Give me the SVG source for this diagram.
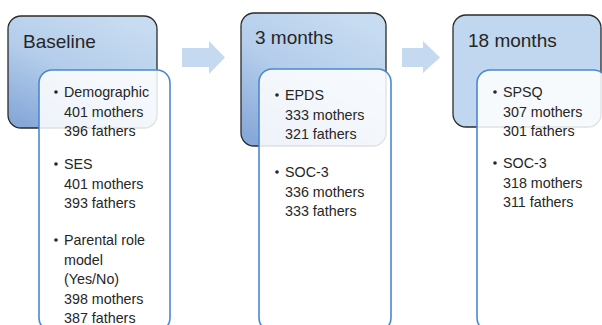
<svg xmlns="http://www.w3.org/2000/svg" width="602" height="325" viewBox="0 0 602 325">
<defs>
<linearGradient id="g1" x1="0.75" y1="0" x2="0.15" y2="1">
<stop offset="0" stop-color="#c8dcf1"/>
<stop offset="0.5" stop-color="#b4cdeb"/>
<stop offset="1" stop-color="#87a8d8"/>
</linearGradient>
<style>
.outer{stroke:#2b2b2b;stroke-width:1.3}
.inner{fill:#ffffff;fill-opacity:0.86;stroke:#4b88cc;stroke-width:1.6}
.arrow{fill:#c5daf0}
text{font-family:"Liberation Sans",Arial,sans-serif;fill:#262626}
.h{font-size:19px}
.t{font-size:14.3px}
.b{fill:#262626}
</style>
</defs>
<rect width="602" height="325" fill="#ffffff"/>
<g id="connectors">
<polygon class="arrow" points="182,48 209,48 209,41 225,57.5 209,74 209,67 182,67"/>
<polygon class="arrow" points="402,48 423,48 423,41 440,57.5 423,73 423,67 402,67"/>
</g>
<g id="baseline">
<rect class="outer" x="8" y="16" width="149" height="112" rx="13" fill="url(#g1)"/>
<text class="h" x="23" y="48">Baseline</text>
<rect class="inner" x="39" y="70" width="131" height="261" rx="13"/>
<circle class="b" cx="56" cy="92" r="1.8"/>
<text class="t" x="64" y="97">Demographic</text>
<text class="t" x="64" y="116.5">401 mothers</text>
<text class="t" x="64" y="136">396 fathers</text>
<circle class="b" cx="56" cy="164" r="1.8"/>
<text class="t" x="64" y="169">SES</text>
<text class="t" x="64" y="188.5">401 mothers</text>
<text class="t" x="64" y="208">393 fathers</text>
<circle class="b" cx="56" cy="240" r="1.8"/>
<text class="t" x="64" y="245">Parental role</text>
<text class="t" x="64" y="264.5">model</text>
<text class="t" x="64" y="284">(Yes/No)</text>
<text class="t" x="64" y="303.5">398 mothers</text>
<text class="t" x="64" y="323">387 fathers</text>
</g>
<g id="three-months">
<rect class="outer" x="241" y="13" width="145" height="133" rx="13" fill="url(#g1)"/>
<text class="h" x="255" y="44">3 months</text>
<rect class="inner" x="259" y="69" width="132" height="262" rx="13"/>
<circle class="b" cx="277" cy="95" r="1.8"/>
<text class="t" x="285" y="100">EPDS</text>
<text class="t" x="285" y="119.5">333 mothers</text>
<text class="t" x="285" y="139">321 fathers</text>
<circle class="b" cx="277" cy="172" r="1.8"/>
<text class="t" x="285" y="177">SOC-3</text>
<text class="t" x="285" y="196.5">336 mothers</text>
<text class="t" x="285" y="216">333 fathers</text>
</g>
<g id="eighteen-months">
<rect class="outer" x="453" y="15" width="148" height="112" rx="13" fill="#c0d7ef"/>
<text class="h" x="468" y="47">18 months</text>
<rect class="inner" x="477" y="70" width="130" height="261" rx="13"/>
<circle class="b" cx="495" cy="92" r="1.8"/>
<text class="t" x="503" y="97">SPSQ</text>
<text class="t" x="503" y="116.5">307 mothers</text>
<text class="t" x="503" y="136">301 fathers</text>
<circle class="b" cx="495" cy="163" r="1.8"/>
<text class="t" x="503" y="168">SOC-3</text>
<text class="t" x="503" y="187.5">318 mothers</text>
<text class="t" x="503" y="207">311 fathers</text>
</g>
</svg>
